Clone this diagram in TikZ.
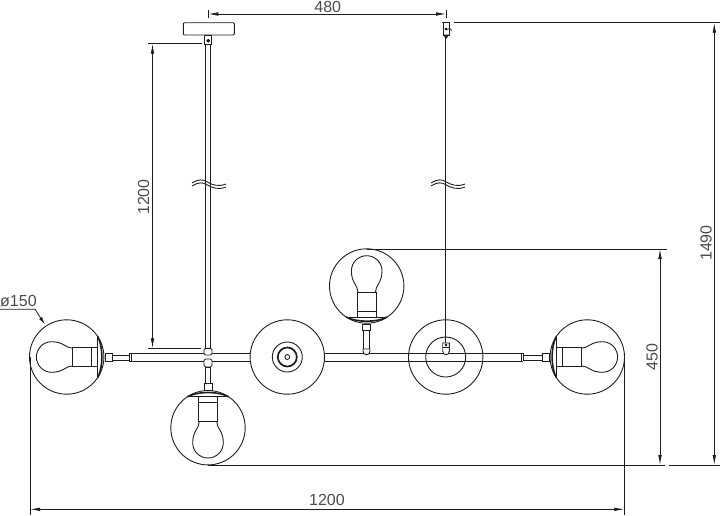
\documentclass[tikz,border=0pt]{standalone}
\usepackage{fontspec}
\setmainfont{Liberation Sans}
\usetikzlibrary{arrows.meta}
\definecolor{inkline}{HTML}{1E1E1E}
\tikzset{
	dimline/.style={line width=0.8pt, color=inkline, {Latex[length=10pt,width=3.6pt]}-{Latex[length=10pt,width=3.6pt]}},
	extline/.style={line width=0.8pt, color=inkline},
	partline/.style={line width=0.9pt, color=inkline},
	dimlabel/.style={color=inkline!80, font=\fontsize{16}{16}\selectfont, inner sep=0pt}
}
\def\lampglobe[#1](#2){
	\begin{scope}[shift={(#2)}, rotate=#1]
		\draw[partline] (0, 0) circle (37.2);
		\draw[partline] (-9.4, -31) rectangle (9.4, -25);
		\draw[partline] (-9.6, -25) rectangle (9.6, -6);
		\draw[partline] (-8.8, -6) .. controls (-8.8, 1) and (-15.3, 3) .. (-15.3, 15) .. controls (-15.3, 24) and (-8, 30.3) .. (0, 30.3) .. controls (8, 30.3) and (15.3, 24) .. (15.3, 15) .. controls (15.3, 3) and (8.8, 1) .. (8.8, -6);
		\draw[partline] (-20.5, -31) -- (20.5, -31);
		\draw[line width=1.6pt, color=inkline] (-20.5, -31) .. controls (-10, -36.6) and (10, -36.6) .. (20.5, -31);
	\end{scope}
}
\def\breakmark(#1){
	\draw[partline, shift={(#1)}] (-16.5, -1) .. controls (-10, -5) and (-6, -5) .. (-1, -2) .. controls (4, 1) and (10, 3) .. (17.5, 0);
	\draw[partline, shift={(#1)}] (-16.5, 2) .. controls (-10, -2) and (-6, -2) .. (-1, 1) .. controls (4, 4) and (10, 6) .. (17.5, 3);
}

\begin{document}
\begin{tikzpicture}[x=1pt, y=-1pt]
	%%%%% START %%%%%
	\useasboundingbox (0, 0) rectangle (720, 515);

	% arm
	\draw[partline] (129, 353.3) -- (523, 353.3);
	\draw[partline] (129, 361.3) -- (523, 361.3);
	\draw[partline] (129, 353.3) -- (129, 361.3);
	\draw[partline] (131, 353.3) -- (131, 361.3);
	\draw[partline] (523, 353.3) -- (523, 361.3);
	\draw[partline] (521, 353.3) -- (521, 361.3);
	\draw[partline] (112, 355) rectangle (129, 360);
	\draw[partline] (105, 353.3) rectangle (112, 361.3);
	\draw[partline] (523, 355) rectangle (542, 360);
	\draw[partline] (542, 353.3) rectangle (549, 361.3);

	% joints at the left cord
	\draw[partline, fill=white, rounded corners=1.5pt] (204, 348.3) rectangle (212, 355);
	\draw[partline, fill=white, rounded corners=1.5pt] (204, 359) rectangle (212, 367);
	\draw[partline] (205.7, 367) rectangle (210.7, 383);
	\draw[partline] (204.3, 383) rectangle (212, 390.7);

	% globes
	\lampglobe[-90](66.7, 357)
	\lampglobe[90](587.3, 357)
	\lampglobe[0](208, 427.7)
	\lampglobe[180](366.7, 286)

	% short stem of the upper globe
	\draw[partline] (362.3, 324.3) rectangle (370, 330.7);
	\draw[partline] (363.3, 330.7) rectangle (369.3, 349);
	\draw[partline, fill=white] (363, 349) -- (370, 349) -- (370, 351) .. controls (370, 356) and (363, 356) .. (363, 351) -- cycle;

	% plain globes
	\draw[partline, fill=white] (287.3, 357) circle (37.2);
	\draw[partline] (287.3, 357) circle (15);
	\draw[line width=1.7pt, color=inkline] (287.3, 357) circle (9.5);
	\draw[partline] (287.3, 357) circle (2.4);
	\draw[partline] (445.7, 357) circle (37.2);
	\draw[partline] (445.7, 357) circle (20);

	% left suspension
	\draw[partline, rounded corners=1pt] (183.3, 22.7) rectangle (234.3, 35);
	\draw[line width=1.6pt, color=inkline] (183.3, 26) -- (183.3, 32);
	\draw[line width=1.6pt, color=inkline] (234.3, 26) -- (234.3, 32);
	\draw[partline] (204.3, 35) rectangle (211.7, 44);
	\draw[fill=inkline] (208.3, 40.7) circle (1.6);
	\draw[partline] (205.8, 44) -- (205.8, 348.3);
	\draw[partline] (210, 44) -- (210, 348.3);
	\breakmark(208.5, 184)

	% right suspension
	\draw[line width=1.5pt, color=inkline] (442.3, 22.7) -- (450, 22.7);
	\draw[partline] (443.5, 22.7) -- (443.5, 35) -- (449, 35) -- (449, 22.7);
	\draw[partline, fill=inkline] (444, 35) -- (448.5, 35) -- (446, 38.3) -- cycle;
	\draw[fill=inkline] (446, 29) circle (1);
	\draw[line width=0.7pt, color=inkline] (447, 29.5) .. controls (449, 28) and (451, 28) .. (452, 30.5);
	\draw[partline] (445.9, 38.3) -- (445.9, 343);
	\draw[partline, fill=white] (442.7, 343) -- (449.3, 343) -- (449.3, 351) .. controls (449.3, 356) and (442.7, 356) .. (442.7, 351) -- cycle;
	\draw[partline] (442.7, 347) -- (449.3, 347);
	\draw[fill=inkline] (446, 345) circle (1.1);
	\breakmark(447.5, 184)

	% dimension points
	\coordinate (cordleft) at (208.3, 14);
	\coordinate (cordright) at (446, 14);
	\coordinate (dropup) at (152.5, 43.7);
	\coordinate (dropdown) at (152.5, 348.3);
	\coordinate (widthleft) at (30, 509.3);
	\coordinate (widthright) at (624.3, 509.3);
	\coordinate (spanup) at (660, 249);
	\coordinate (spandown) at (660, 465);
	\coordinate (totalup) at (714.3, 22.7);
	\coordinate (totaldown) at (714.3, 465);

	% extension lines
	\draw[extline] (208.3, 10) -- (208.3, 18.3);
	\draw[extline] (446, 10) -- (446, 18.3);
	\draw[extline] (148, 43.7) -- (201.7, 43.7);
	\draw[extline] (147.7, 348.3) -- (201, 348.3);
	\draw[extline] (30, 357) -- (30, 515);
	\draw[extline] (624.3, 355) -- (624.3, 515);
	\draw[extline] (366.7, 249) -- (667, 249);
	\draw[extline] (208, 465) -- (665, 465);
	\draw[extline] (669, 465) -- (720, 465);
	\draw[extline] (454, 22.7) -- (720, 22.7);

	% dimensions
	\draw[dimline] (cordleft) -- (cordright);
	\draw[dimline] (dropup) -- (dropdown);
	\draw[dimline] (widthleft) -- (widthright);
	\draw[dimline] (spanup) -- (spandown);
	\draw[dimline] (totalup) -- (totaldown);

	\node[dimlabel] (labelcord) at (327.7, 6.8) {480};
	\node[dimlabel, rotate=90] (labeldrop) at (143.5, 197) {1200};
	\node[dimlabel] (labelwidth) at (327, 500) {1200};
	\node[dimlabel, rotate=90] (labelspan) at (652, 356.7) {450};
	\node[dimlabel, rotate=90] (labeltotal) at (706, 243) {1490};
	\node[dimlabel, anchor=west] (labelglobe) at (0, 301) {ø150};

	% globe leader
	\coordinate (leadstart) at (0, 309.3);
	\coordinate (leadbend) at (35, 309.3);
	\coordinate (leadtip) at (45, 324.7);
	\draw[extline, -{Latex[length=8pt,width=3.6pt]}] (leadstart) -- (leadbend) -- (leadtip);
	%%%%% END %%%%%
\end{tikzpicture}
\end{document}
